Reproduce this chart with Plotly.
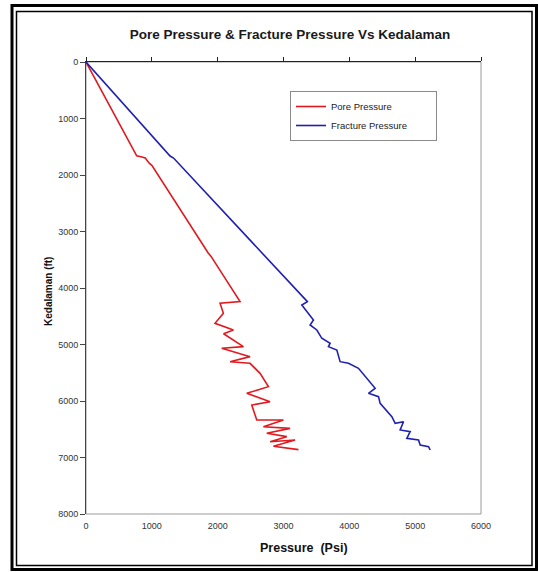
import plotly.graph_objects as go

# Pore pressure profile: pressure (psi) against depth (ft)
pore_psi = [0, 770, 850, 900, 960, 1000, 1856, 1900, 2340, 2036, 2087, 1960,
            2239, 2090, 2391, 2062, 2492, 2188, 2492, 2644, 2771, 2442, 2796,
            2518, 2594, 2999, 2695, 3100, 2746, 3049, 2796, 3176, 2847, 3227]
pore_ft = [0, 1660, 1680, 1700, 1790, 1830, 3380, 3440, 4242, 4271, 4448, 4625,
           4743, 4810, 5038, 5067, 5215, 5304, 5333, 5510, 5746, 5864, 6012,
           6071, 6336, 6336, 6455, 6484, 6571, 6631, 6720, 6690, 6800, 6860]

# Fracture pressure profile
frac_psi = [0, 1277, 1330, 3252, 3363, 3278, 3455, 3404, 3506, 3582, 3708, 3683,
            3810, 3860, 3987, 4139, 4392, 4291, 4443, 4468, 4646, 4696, 4823,
            4772, 4924, 4873, 5051, 5076, 5203, 5228]
frac_ft = [0, 1664, 1700, 4094, 4242, 4301, 4566, 4655, 4743, 4890, 4979, 5038,
           5097, 5304, 5333, 5421, 5775, 5864, 5923, 6041, 6277, 6395, 6366,
           6513, 6543, 6660, 6690, 6779, 6809, 6867]

x_ticks = [0, 1000, 2000, 3000, 4000, 5000, 6000]
y_ticks = [0, 1000, 2000, 3000, 4000, 5000, 6000, 7000, 8000]

W, H = 539, 572
L, R, T, B = 86, 481, 62, 514  # plot-area edges in pixels

FONT = "Arial, Liberation Sans, sans-serif"
RED = "#E01A1F"
BLUE = "#2020B0"
NB = "\u00a0"


def px_x(p):
    return (p - L) / (R - L)


def px_y(p):
    return (B - p) / (B - T)


fig = go.Figure()
fig.add_trace(go.Scatter(x=pore_psi, y=pore_ft, mode="lines",
                         name="Pore Pressure" + NB * 14,
                         line=dict(color=RED, width=1.6)))
fig.add_trace(go.Scatter(x=frac_psi, y=frac_ft, mode="lines",
                         name="Fracture Pressure" + NB * 9,
                         line=dict(color=BLUE, width=1.6),
                         xaxis="x2"))

shapes = [
    # plot-area border
    dict(type="rect", xref="paper", yref="paper", x0=0, x1=1, y0=0, y1=1,
         line=dict(color="#9a9a9a", width=1), layer="below"),
    # double outer frame
    dict(type="rect", xref="paper", yref="paper",
         x0=px_x(12), x1=px_x(536.5), y0=px_y(569.5), y1=px_y(5.5),
         line=dict(color="black", width=3)),
    dict(type="rect", xref="paper", yref="paper",
         x0=px_x(16.5), x1=px_x(532), y0=px_y(565.5), y1=px_y(11.5),
         line=dict(color="black", width=1.5)),
]

annotations = [
    dict(text="<b>Pressure  (Psi)</b>", xref="paper", yref="paper",
         x=px_x(304), y=px_y(548), xanchor="center", yanchor="middle",
         showarrow=False, font=dict(family=FONT, size=12.5, color="#111111")),
    dict(text="<b>Kedalaman (ft)</b>", xref="paper", yref="paper",
         x=px_x(48), y=px_y(292), xanchor="center", yanchor="middle",
         textangle=-90, showarrow=False,
         font=dict(family=FONT, size=10, color="#111111")),
]

fig.update_layout(
    width=W, height=H,
    margin=dict(l=L, r=W - R, t=T, b=H - B),
    paper_bgcolor="white", plot_bgcolor="white",
    font=dict(family=FONT, color="#333333", size=9),
    title=dict(text="<b>Pore Pressure & Fracture Pressure Vs Kedalaman</b>",
               x=290 / W, xanchor="center", y=1 - 34 / H, yanchor="middle",
               font=dict(family=FONT, size=13.5, color="#1a1a1a")),
    xaxis=dict(range=[0, 6000], tickvals=x_ticks, ticks="", showgrid=False,
               zeroline=False, showline=False, side="bottom",
               ticklabelstandoff=5,
               tickfont=dict(size=9, color="#333333")),
    xaxis2=dict(range=[0, 6000], tickvals=x_ticks, overlaying="x", side="top",
                matches="x", showticklabels=False, ticks="outside", ticklen=4,
                tickcolor="#222222", showline=True, linecolor="#222222",
                linewidth=1, showgrid=False, zeroline=False),
    yaxis=dict(range=[8000, 0], tickvals=y_ticks, ticks="outside", ticklen=5,
               tickcolor="#444444", showline=True, linecolor="#444444",
               linewidth=1, showgrid=False, zeroline=False,
               tickfont=dict(size=9, color="#333333")),
    legend=dict(x=px_x(290), y=px_y(91), xanchor="left", yanchor="top",
                bordercolor="#8a8a8a", borderwidth=1, bgcolor="white",
                font=dict(family=FONT, size=9.5, color="#222222"),
                tracegroupgap=0, itemwidth=30),
    shapes=shapes,
    annotations=annotations,
    showlegend=True,
)

fig.write_html("out.html")
